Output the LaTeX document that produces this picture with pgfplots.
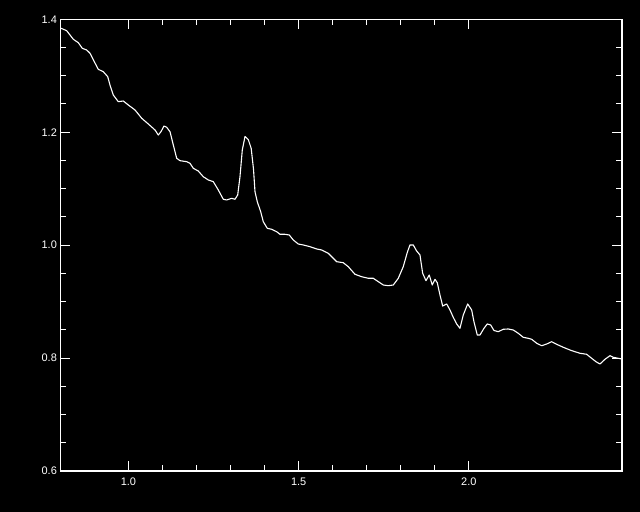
\documentclass[border=0pt]{standalone}
\usepackage{pgfplots}
\pgfplotsset{compat=1.18}
\usepackage{fontspec}
\setmainfont{Liberation Sans}
\begin{document}
\begin{tikzpicture}[x=1bp,y=1bp]
\fill[black] (0,0) rectangle (640,512);
\useasboundingbox (0,0) rectangle (640,512);
\begin{axis}[
  at={(60.4bp,41bp)}, anchor=south west,
  scale only axis, width=561.6bp, height=451.7bp,
  xmin=0.8, xmax=2.45, ymin=0.6, ymax=1.4,
  xtick={1.0,1.5,2.0}, ytick={0.6,0.8,1.0,1.2,1.4},
  minor x tick num=4, minor y tick num=3,
  tick align=inside,
  major tick length=10bp, minor tick length=6bp,
  axis line style={white, line width=1.2bp},
  tick style={white, line width=1bp},
  /pgf/number format/fixed,
  /pgf/number format/fixed zerofill,
  /pgf/number format/precision=1,
  /pgf/number format/assume math mode=true,
  ticklabel style={font=\fontsize{11}{13}\selectfont, text=white},
  xticklabel style={yshift=-3bp},
]
\addplot[white, line width=1.1bp, line join=round, mark=none] coordinates {
(0.8018,1.3841) (0.8185,1.3798) (0.8282,1.3722) (0.8379,1.3646) (0.8526,1.3586)
(0.8643,1.3486) (0.8773,1.3456) (0.8870,1.3398) (0.8996,1.3249) (0.9113,1.3114)
(0.9260,1.3072) (0.9390,1.2983) (0.9457,1.2836) (0.9554,1.2659) (0.9701,1.2541)
(0.9848,1.2553) (0.9995,1.2482) (1.0192,1.2394) (1.0388,1.2247) (1.0582,1.2146)
(1.0779,1.2040) (1.0876,1.1951) (1.0955,1.2009) (1.1043,1.2110) (1.1123,1.2087)
(1.1220,1.2009) (1.1317,1.1774) (1.1417,1.1538) (1.1514,1.1496) (1.1710,1.1478)
(1.1807,1.1450) (1.1904,1.1361) (1.2051,1.1313) (1.2198,1.1212) (1.2345,1.1154)
(1.2492,1.1124) (1.2639,1.0977) (1.2786,1.0812) (1.2885,1.0800) (1.3032,1.0830)
(1.3129,1.0812) (1.3209,1.0888) (1.3276,1.1212) (1.3344,1.1685) (1.3423,1.1924)
(1.3520,1.1869) (1.3605,1.1715) (1.3673,1.1349) (1.3717,1.0947) (1.3784,1.0770)
(1.3884,1.0593) (1.3961,1.0415) (1.4078,1.0298) (1.4207,1.0281) (1.4354,1.0238)
(1.4451,1.0192) (1.4598,1.0192) (1.4724,1.0180) (1.4842,1.0091) (1.4989,1.0020)
(1.5136,1.0003) (1.5333,0.9973) (1.5530,0.9932) (1.5676,0.9914) (1.5870,0.9856)
(1.6117,0.9707) (1.6311,0.9689) (1.6458,0.9618) (1.6655,0.9484) (1.6851,0.9441)
(1.7045,0.9413) (1.7192,0.9413) (1.7339,0.9353) (1.7486,0.9294) (1.7633,0.9282)
(1.7780,0.9294) (1.7927,0.9413) (1.8073,0.9618) (1.8191,0.9870) (1.8270,1.0003)
(1.8367,1.0003) (1.8467,0.9896) (1.8564,0.9826) (1.8643,0.9502) (1.8740,0.9371)
(1.8837,0.9471) (1.8925,0.9294) (1.9005,0.9395) (1.9072,0.9335) (1.9152,0.9117)
(1.9231,0.8922) (1.9349,0.8958) (1.9445,0.8852) (1.9542,0.8722) (1.9642,0.8604)
(1.9739,0.8527) (1.9836,0.8763) (1.9965,0.8958) (2.0083,0.8852) (2.0150,0.8644)
(2.0247,0.8409) (2.0327,0.8409) (2.0444,0.8527) (2.0541,0.8604) (2.0641,0.8586)
(2.0738,0.8489) (2.0864,0.8467) (2.1011,0.8510) (2.1158,0.8515) (2.1305,0.8497)
(2.1452,0.8439) (2.1599,0.8368) (2.1746,0.8350) (2.1846,0.8333) (2.1993,0.8262)
(2.2140,0.8219) (2.2287,0.8249) (2.2433,0.8290) (2.2580,0.8244) (2.2774,0.8191)
(2.2971,0.8143) (2.3118,0.8113) (2.3265,0.8085) (2.3461,0.8067) (2.3608,0.7996)
(2.3734,0.7936) (2.3852,0.7895) (2.3999,0.7978) (2.4146,0.8042) (2.4243,0.8014)
(2.4389,0.7996) (2.4498,0.7984)
};
\end{axis}
\end{tikzpicture}
\end{document}
